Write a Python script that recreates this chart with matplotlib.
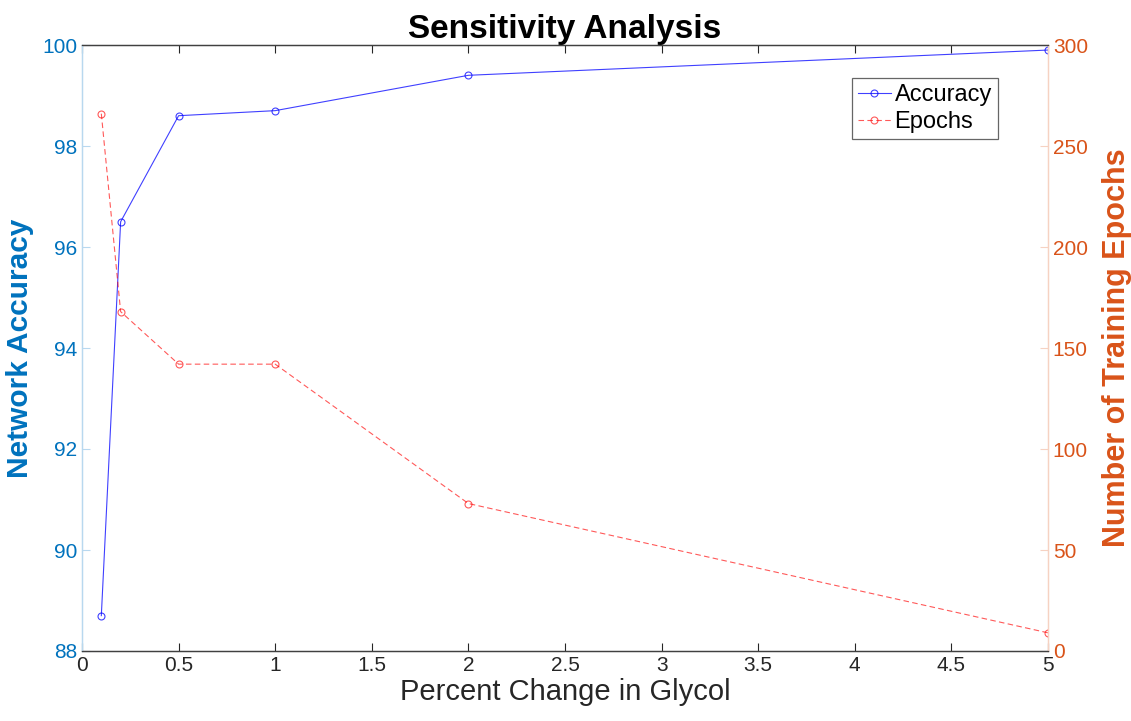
import matplotlib
matplotlib.use('Agg')
import matplotlib.pyplot as plt
import numpy as np

# data
pct_change = [0.1, 0.2, 0.5, 1, 2, 5]
accuracy = [88.7, 96.5, 98.6, 98.7, 99.4, 99.9]
epochs = [266, 168, 142, 142, 73, 9]

x_ticks = [0, 0.5, 1, 1.5, 2, 2.5, 3, 3.5, 4, 4.5, 5]
x_ticklabels = ['0', '0.5', '1', '1.5', '2', '2.5', '3', '3.5', '4', '4.5', '5']
acc_ticks = [88, 90, 92, 94, 96, 98, 100]
ep_ticks = [0, 50, 100, 150, 200, 250, 300]

blue = '#0072BD'
orange = '#D95319'

plt.rcParams['font.family'] = ['Liberation Sans', 'DejaVu Sans']

fig = plt.figure(figsize=(11.31, 7.21), dpi=100)
ax = fig.add_axes([82/1131, 1 - 651/721, (1048-82)/1131, (651-45)/721])
ax2 = ax.twinx()

l1, = ax.plot(pct_change, accuracy, color=(0, 0, 1), lw=0.8, alpha=0.75,
              marker='o', markersize=5, markerfacecolor='none', markeredgewidth=0.8,
              label='Accuracy')
l2, = ax2.plot(pct_change, epochs, color=(1, 0, 0), lw=0.8, alpha=0.65, ls=(0, (5, 3)),
               marker='o', markersize=5, markerfacecolor='none', markeredgewidth=0.8,
               label='Epochs')

ax.set_xlim(0, 5)
ax.set_ylim(88, 100)
ax2.set_ylim(0, 300)
ax.set_xticks(x_ticks)
ax.set_xticklabels(x_ticklabels)
ax.set_yticks(acc_ticks)
ax2.set_yticks(ep_ticks)

ax.tick_params(axis='x', direction='in', length=6, colors='#262626', labelsize=15, top=True)
ax.tick_params(axis='y', direction='in', length=6, color='#b8d8ef', labelcolor=blue, labelsize=15)
ax2.tick_params(axis='y', direction='in', length=6, color='#f6d2c2', labelcolor=orange, labelsize=15)

for a in (ax, ax2):
    a.spines['top'].set_color('#404040')
    a.spines['bottom'].set_color('#404040')
    a.spines['left'].set_color('#b8d8ef')
    a.spines['right'].set_color('#f6d2c2')
    for s in a.spines.values():
        s.set_linewidth(0.9)

ax.set_xlabel('Percent Change in Glycol', fontsize=21, color='#262626', labelpad=2)
ax.set_ylabel('Network Accuracy', fontsize=21.5, fontweight='bold', color=blue, labelpad=6)
ax2.set_ylabel('Number of Training Epochs', fontsize=22, fontweight='bold', color=orange, labelpad=10)
ax.set_title('Sensitivity Analysis', fontsize=24, fontweight='bold', pad=5,
             family=['Liberation Sans Narrow', 'Liberation Sans', 'DejaVu Sans'])

# legend box in the upper right
leg = ax2.legend(handles=[l1, l2], loc='upper right', bbox_to_anchor=(0.948, 0.945),
                 fontsize=17, frameon=True, fancybox=False, edgecolor='#404040',
                 handlelength=1.4, handletextpad=0.15, borderpad=0.25, labelspacing=0.2,
                 borderaxespad=0)
leg.get_frame().set_linewidth(0.9)

plt.savefig('out.png', dpi=100)
